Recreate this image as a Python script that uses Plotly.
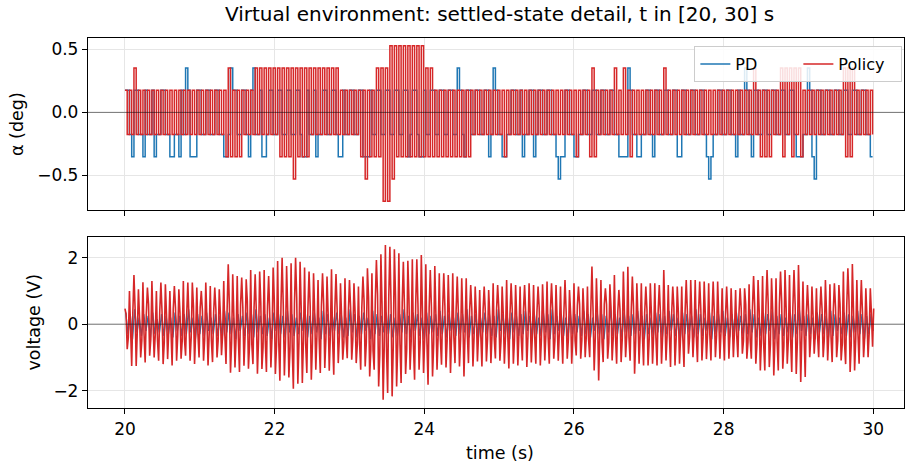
import plotly.graph_objects as go

# ---------------- data ----------------
Q = 360 / 2048          # encoder resolution, deg per count
ALPHA_DT = 0.03         # s per step sample
CYCLE = 0.06            # s per voltage cycle
T0 = 20.0

# alpha in encoder counts (PD)
PD_ALPHA_COUNTS = [
    1, 1, -1, -2, 1, 1, -1, -1, -2, 1, -1, -1, 1, -2, -1, -1, 1, 1, -1, -1,
    -2, -2, -1, -1, -2, 1, -1, 2, 1, -2, -2, -2, 1, 1, -1, -1, 1, 1, -1, -1,
    1, 1, -1, -1, -2, -2, -1, 2, 1, 1, -1, -1, 1, 1, -1, -2, 1, 2, -1, -1,
    1, -2, -2, -1, 1, 1, -1, -1, 1, 1, -1, -1, 1, 1, -1, -1, 1, 1, -1, -2,
    -2, 1, -1, -1, 1, -2, -1, -1, 1, 1, -1, -1, 1, 1, -1, -2, -2, 1, -1, -1,
    1, 1, -1, -1, 1, 1, -2, -2, -2, 1, -1, -1, 1, 1, -1, -1, 1, 1, -1, -1,
    1, 1, -1, -1, 1, 1, -2, -1, 1, 1, -1, -2, -2, 1, -1, -1, 1, 1, -1, -1,
    1, 1, -1, -1, 1, 1, -1, -1, 2, 1, -1, -2, 1, 1, -1, -1, 1, 1, -1, -1,
    1, 1, -2, -1, 2, 1, -1, -1, -2, -2, -1, -1, 1, 1, -1, -1, 1, -2, -1, -1,
    1, 1, -2, -1, 1, 1, -1, -1, 1, 1, -1, -1, -2, -3, -2, -2, 1, 1, -1, -1,
    -2, -2, -1, -1, 1, 1, -1, -1, 1, 1, -1, -1, 1, 1, -1, -1, 1, 1, -1, -1,
    -2, -2, -2, -2, 2, 1, -1, -1, -2, -2, -1, -1, 1, 1, -1, -2, 1, 1, -1, -1,
    1, 1, -1, -1, 1, 1, -2, -2, 1, 1, -1, -1, 1, 1, -1, -1, 1, 1, -1, -2,
    -3, -2, -1, -1, 1, 1, -1, -1, 1, 1, -1, -1, -2, 1, -1, -1, 2, 1, -1, -2,
    1, 1, -1, -1, 1, 1, -1, -1, 1, 1, -1, -1, 1, 1, -1, -1, 1, 1, -1, -2,
    -2, -2, -1, -1, 2, 1, -2, -3, 1, 1, -1, -1, 1, 1, -1, -1, 1, 1, -1, -1,
    1, 1, -1, -1, 1, 1, -1, -1, 1, 1, -1, -1, -2, -2,
]

# alpha in encoder counts (Policy)
POLICY_ALPHA_COUNTS = [
    1, -1, 1, -1, 2, -1, 1, -1, 1, -1, 1, -1, 1, -1, 1, -1, 1, -1, 1, -1,
    1, -1, 1, -1, 1, -1, 1, -1, 1, -1, 1, -1, 1, -1, 1, -1, 1, -1, 1, -1,
    1, -1, 1, -1, 1, -2, 2, -2, 1, -2, 1, -2, 1, -1, 1, -1, 1, -1, 2, -1,
    2, -1, 2, -1, 2, -1, 2, -1, 2, -2, 2, -2, 2, -2, 2, -3, 2, -2, 2, -2,
    2, -2, 2, -1, 2, -1, 2, -1, 2, -1, 2, -1, 2, -1, 2, -1, 1, -1, 1, -1,
    1, -1, 1, -1, 1, -2, 1, -3, 1, -2, 1, -2, 2, -2, 2, -4, 2, -4, 3, -3,
    3, -2, 3, -2, 3, -2, 3, -2, 3, -2, 3, -2, 3, -2, 2, -2, 2, -2, 1, -2,
    1, -2, 1, -2, 1, -2, 1, -2, 1, -2, 1, -2, 1, -2, 1, -1, 1, -1, 1, -1,
    1, -1, 1, -1, 1, -1, 1, -1, 1, -2, 1, -1, 1, -1, 1, -1, 1, -1, 1, -1,
    1, -1, 1, -1, 1, -1, 1, -1, 1, -1, 1, -1, 1, -1, 1, -1, 1, -1, 1, -1,
    1, -2, 1, -1, 1, -1, 1, -2, 2, -2, 1, -1, 1, -1, 1, -1, 1, -1, 2, -1,
    1, -1, 2, -1, 1, -2, 1, -1, 1, -1, 1, -1, 1, -1, 1, -1, 1, -1, 1, -1,
    2, -1, 1, -1, 1, -1, 1, -1, 1, -1, 1, -1, 1, -1, 1, -1, 1, -1, 1, -1,
    1, -1, 1, -1, 1, -1, 1, -1, 1, -1, 1, -1, 1, -1, 1, -1, 1, -1, 1, -1,
    2, -1, 1, -2, 1, -2, 1, -2, 1, -1, 1, -1, 2, -2, 2, -1, 2, -2, 2, -1,
    2, -2, 1, -1, 1, -1, 1, -1, 1, -1, 1, -1, 1, -1, 1, -1, 1, -1, 1, -1,
    2, -2, 2, -2, 2, -1, 1, -1, 1, -1, 1, -1, 1, -1,
]

# Policy voltage, one cycle = peak, mid1, trough, mid2
POLICY_V_PEAK = [
    0.47, 1.0, 1.48, 1.05, 1.26, 1.1, 1.3, 1.0, 1.25, 1.2,
    1.0, 1.15, 1.05, 1.3, 1.25, 1.25, 1.1, 1.0, 1.25, 1.15,
    1.1, 1.05, 1.3, 1.8, 1.5, 1.45, 1.4, 1.35, 1.63, 1.5,
    1.58, 1.63, 1.45, 1.7, 1.9, 2.0, 1.75, 1.83, 2.0, 1.88,
    1.7, 1.58, 1.53, 1.33, 1.53, 1.43, 1.65, 1.51, 1.23, 1.38,
    1.33, 1.23, 1.13, 1.43, 1.68, 1.53, 1.93, 2.1, 2.38, 2.33,
    2.25, 2.13, 1.88, 1.91, 1.95, 1.95, 2.08, 1.8, 1.63, 1.75,
    1.53, 1.53, 1.48, 1.53, 1.43, 1.38, 1.38, 1.18, 1.13, 1.03,
    1.13, 1.03, 1.23, 1.18, 1.13, 1.33, 1.23, 1.18, 1.13, 1.18,
    1.23, 1.18, 1.13, 1.2, 1.28, 1.23, 1.18, 1.13, 1.33, 1.03,
    1.23, 1.13, 1.08, 1.13, 1.73, 1.38, 1.33, 1.08, 1.2, 1.48,
    1.03, 1.58, 1.73, 1.43, 1.23, 1.23, 1.13, 1.23, 1.23, 1.18,
    1.63, 1.18, 1.13, 1.13, 1.13, 1.33, 1.33, 1.33, 1.28, 1.28,
    1.23, 1.28, 1.28, 1.08, 1.13, 1.08, 1.03, 1.08, 1.08, 1.2,
    1.45, 1.33, 1.45, 1.63, 1.38, 1.38, 1.58, 1.63, 1.48, 1.63,
    1.78, 1.28, 1.18, 1.13, 1.08, 1.13, 1.33, 1.2, 1.23, 1.18,
    1.58, 1.68, 1.81, 1.33, 1.33, 1.08, 1.08,
]
POLICY_V_MID1 = [
    0.3, -0.4, 0.5, 0.2, -0.3, 0.6, 0.1, -0.5, 0.4, 0.3,
    -0.2, 0.5, 0.35, -0.45, 0.2, 0.55, -0.3, 0.4, 0.15, -0.5,
    0.45, 0.3, -0.35, 0.6, 0.25, -0.4, 0.5, 0.7, -0.6, 0.4,
    0.65, -0.5, 0.3, 0.75, -0.55, 0.6, 0.4, -0.7, 0.8, 0.5,
    -0.6, 0.55, 0.35, -0.45, 0.6, 0.3, -0.5, 0.45, 0.2, -0.4,
    0.5, 0.35, -0.55, 0.7, 0.8, -0.8, 0.9, 0.6, -0.75, 0.7,
    0.85, -0.6, 0.5, 0.75, -0.65, 0.6, 0.4, -0.55, 0.5, 0.3,
    -0.45, 0.55, 0.25, -0.4, 0.35, 0.2, -0.3, 0.45, 0.3, -0.35,
    0.4, 0.25, -0.45, 0.5, 0.3, -0.3, 0.45, 0.2, -0.4, 0.35,
    0.3, -0.35, 0.5, 0.25, -0.4, 0.45, 0.15, -0.3, 0.4, 0.35,
    -0.5, 0.6, 0.3, -0.45, 0.4, 0.25, -0.55, 0.6, 0.5, -0.35,
    0.45, 0.3, -0.4, 0.55, 0.2, -0.35, 0.45, 0.3, -0.4, 0.35,
    0.25, -0.3, 0.5, 0.35, -0.45, 0.4, 0.2, -0.35, 0.45, 0.3,
    -0.3, 0.35, 0.2, -0.25, 0.3, 0.15, -0.35, 0.45, 0.6, -0.5,
    0.55, 0.4, -0.6, 0.65, 0.45, -0.55, 0.7, 0.5, -0.45, 0.6,
    0.35, -0.3, 0.4, 0.25, -0.35, 0.45, 0.3, -0.4, 0.5, 0.6,
    -0.55, 0.7, 0.4, -0.3, 0.35, 0.2, 0.3,
]
POLICY_V_TROUGH = [
    -0.75, -1.26, -1.26, -1.0, -1.15, -0.95, -1.0, -1.1, -1.2, -1.05,
    -1.24, -1.1, -1.04, -0.95, -1.1, -1.2, -1.0, -1.1, -1.24, -1.14,
    -1.0, -0.93, -1.2, -1.46, -1.3, -1.44, -1.25, -1.34, -1.2, -1.49,
    -1.35, -1.44, -1.3, -1.5, -1.7, -1.54, -1.6, -1.94, -1.79, -1.77,
    -1.47, -1.67, -1.37, -1.47, -1.32, -1.4, -1.52, -1.17, -1.07, -1.02,
    -1.07, -1.17, -1.37, -1.27, -1.57, -1.37, -1.87, -2.27, -2.07, -2.17,
    -1.87, -1.77, -1.5, -1.37, -1.67, -1.37, -1.47, -1.82, -1.57, -1.37,
    -1.22, -1.3, -1.47, -1.17, -1.27, -1.57, -1.17, -1.27, -1.12, -1.27,
    -1.12, -1.17, -1.03, -1.1, -1.19, -1.33, -1.19, -1.24, -1.09, -1.29,
    -1.15, -1.19, -1.24, -1.09, -1.19, -1.04, -1.1, -1.19, -1.04, -1.19,
    -0.94, -1.04, -0.99, -0.99, -1.39, -1.69, -1.14, -1.04, -1.09, -1.19,
    -1.14, -0.99, -1.1, -1.49, -1.19, -1.24, -1.24, -1.19, -1.24, -1.19,
    -1.09, -1.29, -1.24, -1.19, -1.29, -0.89, -0.99, -1.14, -1.09, -1.05,
    -1.09, -0.99, -1.04, -1.09, -1.04, -0.99, -0.99, -0.89, -1.04, -1.04,
    -1.19, -1.39, -1.39, -1.29, -1.54, -1.39, -1.34, -1.19, -1.44, -1.5,
    -1.74, -1.59, -0.99, -0.89, -0.99, -0.99, -1.09, -1.14, -0.99, -1.09,
    -1.2, -1.44, -1.39, -1.19, -0.99, -0.99, -0.68,
]
POLICY_V_MID2 = [
    -0.4, 0.35, -0.2, -0.5, 0.3, -0.45, -0.3, 0.4, -0.55, -0.2,
    0.45, -0.35, -0.5, 0.3, -0.4, -0.25, 0.5, -0.45, -0.3, 0.35,
    -0.5, -0.3, 0.45, -0.55, -0.4, 0.6, -0.35, -0.6, 0.5, -0.45,
    -0.7, 0.55, -0.4, -0.65, 0.6, -0.5, -0.75, 0.6, -0.55, -0.45,
    0.5, -0.6, -0.35, 0.55, -0.45, -0.3, 0.5, -0.4, -0.55, 0.35,
    -0.45, -0.6, 0.5, -0.55, -0.8, 0.7, -0.9, -0.65, 0.8, -0.7,
    -0.6, 0.65, -0.75, -0.5, 0.6, -0.55, -0.45, 0.5, -0.6, -0.35,
    0.45, -0.5, -0.3, 0.4, -0.45, -0.25, 0.35, -0.4, -0.3, 0.4,
    -0.45, -0.3, 0.4, -0.5, -0.35, 0.3, -0.45, -0.25, 0.4, -0.35,
    -0.3, 0.35, -0.45, -0.3, 0.4, -0.5, -0.2, 0.35, -0.45, -0.3,
    0.55, -0.5, -0.35, 0.45, -0.4, -0.3, 0.6, -0.55, -0.4, 0.35,
    -0.45, -0.35, 0.4, -0.5, -0.25, 0.35, -0.45, -0.3, 0.4, -0.35,
    -0.3, 0.3, -0.45, -0.35, 0.4, -0.4, -0.25, 0.35, -0.4, -0.3,
    0.3, -0.35, -0.2, 0.25, -0.3, -0.2, 0.35, -0.5, -0.55, 0.5,
    -0.6, -0.45, 0.55, -0.6, -0.5, 0.6, -0.65, -0.45, 0.5, -0.55,
    -0.35, 0.3, -0.4, -0.3, 0.35, -0.45, -0.3, 0.4, -0.5, -0.6,
    0.55, -0.6, -0.45, 0.3, -0.4, -0.25, 0.47,
]

# PD voltage, one cycle = high, low
PD_V_HI = [
    0.35, 0.3, 0.45, 0.2, 0.3, 0.25, 0.35, 0.15, 0.3, 0.25,
    0.2, 0.35, 0.25, 0.3, 0.45, 0.2, 0.3, 0.25, 0.35, 0.2,
    0.3, 0.25, 0.4, 0.35, 0.2, 0.3, 0.25, 0.35, 0.3, 0.45,
    0.25, 0.3, 0.2, 0.35, 0.3, 0.25, 0.4, 0.3, 0.2, 0.35,
    0.3, 0.25, 0.35, 0.2, 0.4, 0.3, 0.25, 0.35, 0.3, 0.2,
    0.45, 0.3, 0.25, 0.35, 0.2, 0.4, 0.3, 0.25, 0.35, 0.3,
    0.2, 0.3, 0.45, 0.25, 0.35, 0.3, 0.2, 0.35, 0.25, 0.3,
    0.4, 0.25, 0.3, 0.2, 0.35, 0.3, 0.45, 0.25, 0.3, 0.2,
    0.35, 0.3, 0.25, 0.45, 0.3, 0.2, 0.35, 0.25, 0.3, 0.4,
    0.25, 0.3, 0.2, 0.35, 0.3, 0.45, 0.25, 0.3, 0.2, 0.35,
    0.3, 0.25, 0.4, 0.3, 0.2, 0.35, 0.3, 0.25, 0.45, 0.3,
    0.2, 0.35, 0.25, 0.3, 0.4, 0.25, 0.3, 0.2, 0.35, 0.3,
    0.25, 0.4, 0.3, 0.2, 0.35, 0.3, 0.25, 0.45, 0.3, 0.2,
    0.35, 0.25, 0.3, 0.4, 0.2, 0.3, 0.35, 0.25, 0.3, 0.45,
    0.3, 0.2, 0.35, 0.3, 0.4, 0.25, 0.3, 0.2, 0.35, 0.3,
    0.45, 0.25, 0.3, 0.2, 0.35, 0.3, 0.25, 0.4, 0.3, 0.2,
    0.35, 0.3, 0.25, 0.4, 0.3, 0.25, 0.3,
]
PD_V_LO = [
    -0.3, -0.45, -0.25, -0.35, -0.2, -0.4, -0.3, -0.25, -0.35, -0.3,
    -0.4, -0.2, -0.35, -0.3, -0.25, -0.45, -0.3, -0.35, -0.2, -0.3,
    -0.35, -0.4, -0.25, -0.3, -0.45, -0.2, -0.35, -0.3, -0.4, -0.25,
    -0.3, -0.35, -0.45, -0.2, -0.3, -0.4, -0.25, -0.35, -0.3, -0.2,
    -0.4, -0.3, -0.25, -0.45, -0.3, -0.35, -0.2, -0.3, -0.4, -0.35,
    -0.25, -0.4, -0.3, -0.2, -0.45, -0.3, -0.35, -0.25, -0.3, -0.4,
    -0.35, -0.25, -0.3, -0.4, -0.2, -0.35, -0.45, -0.3, -0.25, -0.35,
    -0.3, -0.4, -0.2, -0.35, -0.3, -0.25, -0.4, -0.3, -0.45, -0.25,
    -0.3, -0.35, -0.4, -0.2, -0.3, -0.45, -0.25, -0.35, -0.3, -0.2,
    -0.4, -0.3, -0.35, -0.25, -0.45, -0.3, -0.2, -0.35, -0.4, -0.3,
    -0.25, -0.35, -0.3, -0.4, -0.2, -0.3, -0.45, -0.25, -0.35, -0.3,
    -0.4, -0.25, -0.35, -0.3, -0.2, -0.45, -0.3, -0.35, -0.25, -0.4,
    -0.3, -0.2, -0.35, -0.45, -0.3, -0.25, -0.4, -0.3, -0.35, -0.2,
    -0.45, -0.3, -0.25, -0.35, -0.4, -0.3, -0.2, -0.35, -0.3, -0.25,
    -0.4, -0.35, -0.3, -0.2, -0.45, -0.3, -0.35, -0.25, -0.4, -0.3,
    -0.2, -0.35, -0.3, -0.45, -0.25, -0.3, -0.4, -0.35, -0.2, -0.3,
    -0.35, -0.4, -0.25, -0.3, -0.45, -0.3, -0.2,
]

X_TICKS = [20, 22, 24, 26, 28, 30]
ALPHA_TICKS = [-0.5, 0.0, 0.5]
ALPHA_TICKTEXT = ["\u22120.5", "0.0", "0.5"]
V_TICKS = [-2, 0, 2]
V_TICKTEXT = ["\u22122", "0", "2"]

# ---------------- build sample sequences ----------------
pd_t_a = [T0 + ALPHA_DT * i for i in range(len(PD_ALPHA_COUNTS))]
pd_alpha = [c * Q for c in PD_ALPHA_COUNTS]
pol_t_a = [T0 + ALPHA_DT * i for i in range(len(POLICY_ALPHA_COUNTS))]
pol_alpha = [c * Q for c in POLICY_ALPHA_COUNTS]

pol_t_v, pol_v = [], []
for c, (p, m1, tr, m2) in enumerate(zip(POLICY_V_PEAK, POLICY_V_MID1,
                                          POLICY_V_TROUGH, POLICY_V_MID2)):
    base = T0 + CYCLE * c
    for j, v in enumerate((p, m1, tr, m2)):
        pol_t_v.append(base + j * CYCLE / 4)
        pol_v.append(v)

pd_t_v, pd_v = [], []
for c, (hi, lo) in enumerate(zip(PD_V_HI, PD_V_LO)):
    base = T0 + CYCLE * c
    pd_t_v += [base + 0.01, base + 0.04]
    pd_v += [hi, lo]

BLUE = "#1f77b4"
RED = "#d62728"
FONT = "DejaVu Sans"

fig = go.Figure()
fig.add_trace(go.Scatter(x=pd_t_a, y=pd_alpha, mode="lines", name="PD",
                         line=dict(color=BLUE, width=1.5, shape="hv"),
                         xaxis="x", yaxis="y"))
fig.add_trace(go.Scatter(x=pol_t_a, y=pol_alpha, mode="lines", name="Policy",
                         line=dict(color=RED, width=1.5, shape="hv"),
                         xaxis="x", yaxis="y"))
fig.add_trace(go.Scatter(x=pd_t_v, y=pd_v, mode="lines", name="PD",
                         line=dict(color=BLUE, width=1.4), showlegend=False,
                         xaxis="x2", yaxis="y2"))
fig.add_trace(go.Scatter(x=pol_t_v, y=pol_v, mode="lines", name="Policy",
                         line=dict(color=RED, width=1.6), showlegend=False,
                         xaxis="x2", yaxis="y2"))

W, H = 905, 464
ML, MR, MT, MB = 88, 1, 37, 56
ph = H - MT - MB

def ydom(top_px, bot_px):
    return [(H - MB - bot_px) / ph, (H - MB - top_px) / ph]

TICK_FONT = dict(family=FONT, size=17, color="black")
LABEL_FONT = dict(family=FONT, size=17.5, color="black")

axis_common = dict(showline=True, linecolor="black", linewidth=1.3, mirror=True,
                   ticks="outside", ticklen=5, tickwidth=1.2, tickcolor="black",
                   showgrid=True, gridcolor="#e6e6e6", gridwidth=1.2,
                   zeroline=False, tickfont=TICK_FONT)

xr = [19.506, 30.41]
fig.update_layout(
    width=W, height=H,
    margin=dict(l=ML, r=MR, t=MT, b=MB),
    paper_bgcolor="white", plot_bgcolor="white",
    font=dict(family=FONT, color="black"),
    xaxis=dict(domain=[0, 1], range=xr, anchor="y", tickvals=X_TICKS,
               showticklabels=False, **axis_common),
    yaxis=dict(domain=ydom(37.5, 209.5), range=[-0.769, 0.593], anchor="x",
               tickvals=ALPHA_TICKS, ticktext=ALPHA_TICKTEXT, **axis_common),
    xaxis2=dict(domain=[0, 1], range=xr, anchor="y2", tickvals=X_TICKS,
                ticktext=[str(v) for v in X_TICKS], matches="x", **axis_common),
    yaxis2=dict(domain=ydom(236.7, 408), range=[-2.52, 2.63], anchor="x2",
                tickvals=V_TICKS, ticktext=V_TICKTEXT, **axis_common),
    title=dict(text="Virtual environment: settled-state detail, t in [20, 30] s",
               x=(499.5) / W, xanchor="center", xref="container",
               y=1 - 14 / H, yanchor="middle", yref="container",
               font=dict(family=FONT, size=20, color="black")),
    legend=dict(orientation="h", x=0.998, xanchor="right",
                y=(H - MB - 46) / ph, yanchor="top",
                bgcolor="rgba(255,255,255,0.85)", bordercolor="#cccccc",
                borderwidth=1, font=dict(family=FONT, size=16, color="black"),
                itemwidth=30, entrywidth=58, entrywidthmode="pixels"),
    showlegend=True,
)

# horizontal zero reference lines drawn above the data
for yref in ("y", "y2"):
    fig.add_shape(type="line", xref="x domain" if yref == "y" else "x2 domain",
                  yref=yref, x0=0, x1=1, y0=0, y1=0, layer="above",
                  line=dict(color="rgba(0,0,0,0.5)", width=1))

pw = W - ML - MR
fig.add_annotation(text="\u03b1 (deg)", xref="paper", yref="paper",
                   x=(17 - ML) / pw, y=(H - MB - 124) / ph, textangle=-90,
                   showarrow=False, xanchor="center", yanchor="middle",
                   font=LABEL_FONT)
fig.add_annotation(text="voltage (V)", xref="paper", yref="paper",
                   x=(33 - ML) / pw, y=(H - MB - 322.5) / ph, textangle=-90,
                   showarrow=False, xanchor="center", yanchor="middle",
                   font=LABEL_FONT)
fig.add_annotation(text="time (s)", xref="paper", yref="paper",
                   x=(499.5 - ML) / pw, y=(H - MB - 453) / ph,
                   showarrow=False, xanchor="center", yanchor="middle",
                   font=LABEL_FONT)

fig.write_html("out.html",
               config={"displayModeBar": False},
               post_script="document.body.style.margin='0';"
                           "document.body.style.overflow='hidden';")
